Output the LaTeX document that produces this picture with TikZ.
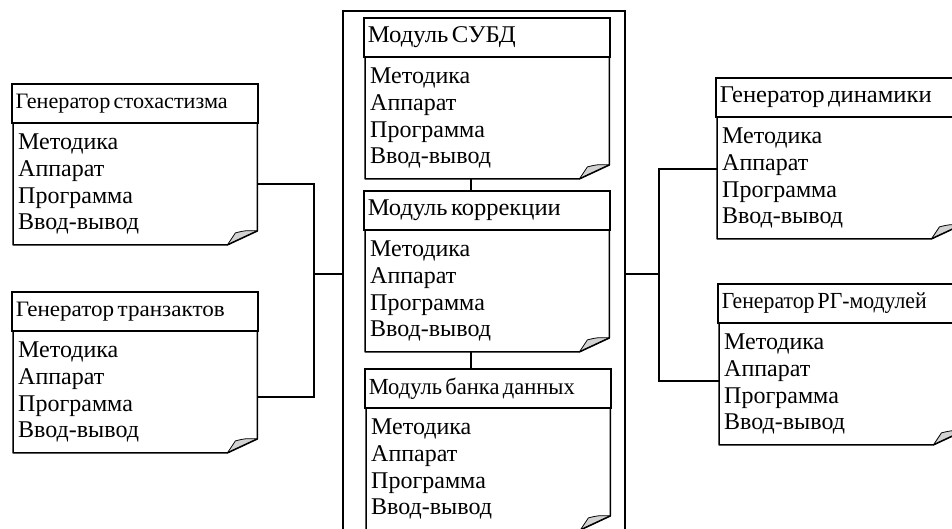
\documentclass[tikz,border=0pt]{standalone}
\usepackage{fontspec}
\setmainfont{Liberation Serif}
\usetikzlibrary{calc}

\tikzset{
  edge/.style={line width=1.5pt},
  hdr/.style={draw, line width=1.5pt, anchor=north west, text width=238pt,
    inner xsep=4pt, inner ysep=0pt, minimum height=39pt, align=left},
  bdy/.style={anchor=north west, text width=234pt, inner xsep=5pt,
    inner ysep=0pt, minimum height=121pt, align=left,
    font=\fontsize{24}{26.7}\selectfont},
  flap/.style={fill=gray!35, line width=0.8pt, line join=round},
}

% header text squeezed to the width of the original
\newcommand{\htext}[3]{\resizebox{#1pt}{\height}{\fontsize{#2}{#2}\selectfont #3}}

% card: name, top left corner, title
\newcommand{\kartka}[3]{%
  \node[hdr] (#1h) at (#2) {#3};
  \node[bdy] (#1) at ([xshift=2pt]#1h.south west)
    {Методика\\Аппарат\\Программа\\Ввод-вывод};
  \filldraw[flap] ([xshift=-30pt]#1.south east)
    -- ([shift={(-22pt,12pt)}]#1.south east)
    .. controls ([shift={(-12pt,14.5pt)}]#1.south east) .. ([yshift=14pt]#1.south east)
    -- cycle;
  \draw[edge, line join=round] (#1.north west) -- (#1.south west)
    -- ([xshift=-30pt]#1.south east) -- ([yshift=14pt]#1.south east)
    -- (#1.north east);
}

\begin{document}
\begin{tikzpicture}[x=1pt, y=1pt]
  \useasboundingbox (0,0) rectangle (952,-528);

  % central frame
  \node[draw, edge, minimum width=282pt, minimum height=526pt, inner sep=0pt]
    (core) at (484,-274) {};

  \kartka{m1}{363,-17}{\htext{148}{24}{Модуль СУБД}}
  \kartka{m2}{363,-190}{\htext{193}{24}{Модуль коррекции}}
  \kartka{m3}{364,-368}{\htext{206}{23}{Модуль банка данных}}

  \kartka{s1}{11,-83}{\htext{212}{22}{Генератор стохастизма}}
  \kartka{t1}{11,-291}{\htext{209}{22}{Генератор транзактов}}

  \kartka{d1}{715,-77}{\htext{212}{24}{Генератор динамики}}
  \kartka{d2}{717,-283}{\htext{205}{23}{Генератор РГ-модулей}}

  \draw[edge] ([xshift=-16pt]m1.south) -- ([xshift=-16pt]m1.south |- m2h.north);
  \draw[edge] ([xshift=-16pt]m2.south) -- ([xshift=-16pt]m2.south |- m3h.north);

  \coordinate (lbus) at (314,-274);
  \draw[edge] (s1.east) -| (lbus) |- ([yshift=-5pt]t1.east);
  \draw[edge] (lbus) -- (core.west);

  \coordinate (rbus) at (659,-274);
  \draw[edge] ([yshift=9pt]d1.west) -| (rbus) |- ([yshift=3pt]d2.west);
  \draw[edge] (rbus) -- (core.east);
\end{tikzpicture}
\end{document}
